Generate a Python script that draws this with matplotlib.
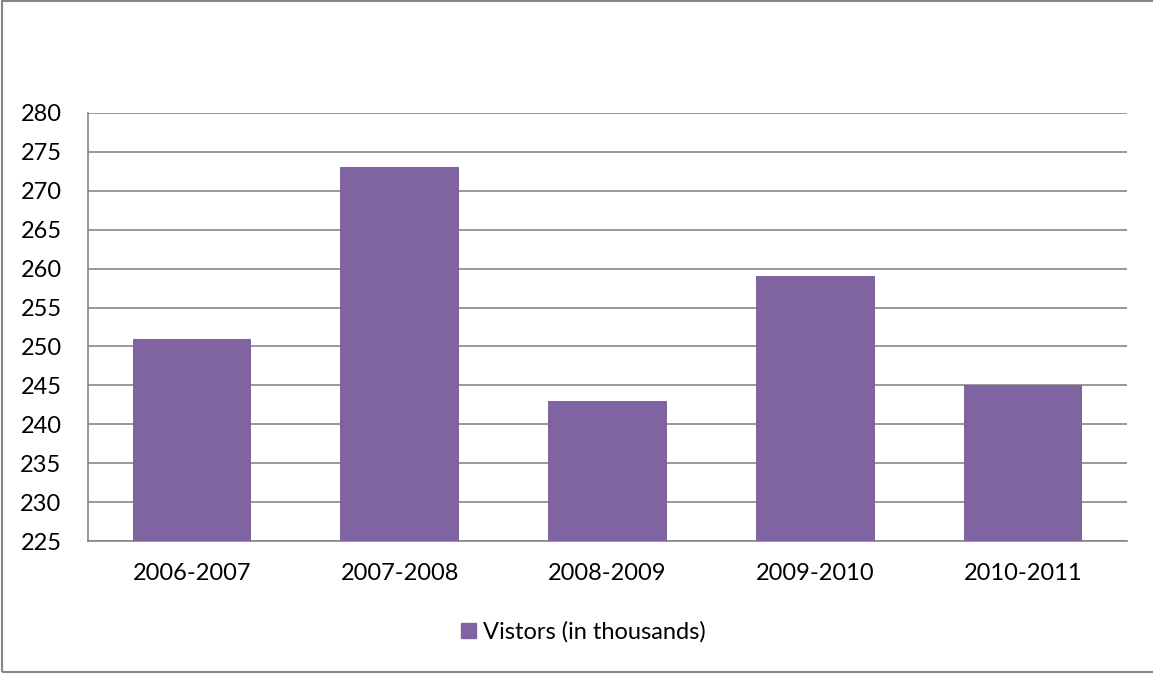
import matplotlib.pyplot as plt
from matplotlib.patches import Rectangle, Patch

categories = ["2006-2007", "2007-2008", "2008-2009", "2009-2010", "2010-2011"]
visitors = [251, 273, 243, 259, 245]
series_name = "Vistors (in thousands)"
yticks = list(range(225, 281, 5))

plt.rcParams['font.family'] = ['Lato', 'DejaVu Sans']

W, H = 1153, 674
fig = plt.figure(figsize=(W / 100, H / 100), dpi=100)
ax = fig.add_axes([88 / W, 1 - 541 / H, (1127 - 88) / W, (541 - 113) / H])

grid_c = '#868686'
bar_c = '#8064A2'
fs = 17

x = list(range(len(categories)))
ax.bar(x, [v - 225 for v in visitors], bottom=225, width=0.57, color=bar_c, zorder=3)
ax.set_xlim(-0.5, len(categories) - 0.5)
ax.set_ylim(225, 280)
ax.set_yticks(yticks)
ax.set_yticklabels([str(t) for t in yticks], fontsize=fs)
ax.set_xticks(x)
ax.set_xticklabels(categories, fontsize=fs)
ax.tick_params(axis='y', length=0, pad=19)
ax.tick_params(axis='x', length=0, pad=16)
ax.yaxis.grid(True, color=grid_c, linewidth=1.2, zorder=0)
for s in ['top', 'right']:
    ax.spines[s].set_visible(False)
for s in ['left', 'bottom']:
    ax.spines[s].set_color(grid_c)
    ax.spines[s].set_linewidth(1.2)

leg = fig.legend(handles=[Patch(color=bar_c, label=series_name)], loc='center',
                 bbox_to_anchor=(583 / W, 1 - 632 / H), frameon=False, fontsize=fs,
                 handlelength=0.64, handleheight=0.64, handletextpad=0.3)

fig.add_artist(Rectangle((2 / W, 2 / H), (W + 5) / W, (H - 2.5) / H, transform=fig.transFigure,
                         fill=False, edgecolor=grid_c, linewidth=1.5))

fig.savefig('out.png', dpi=100)
